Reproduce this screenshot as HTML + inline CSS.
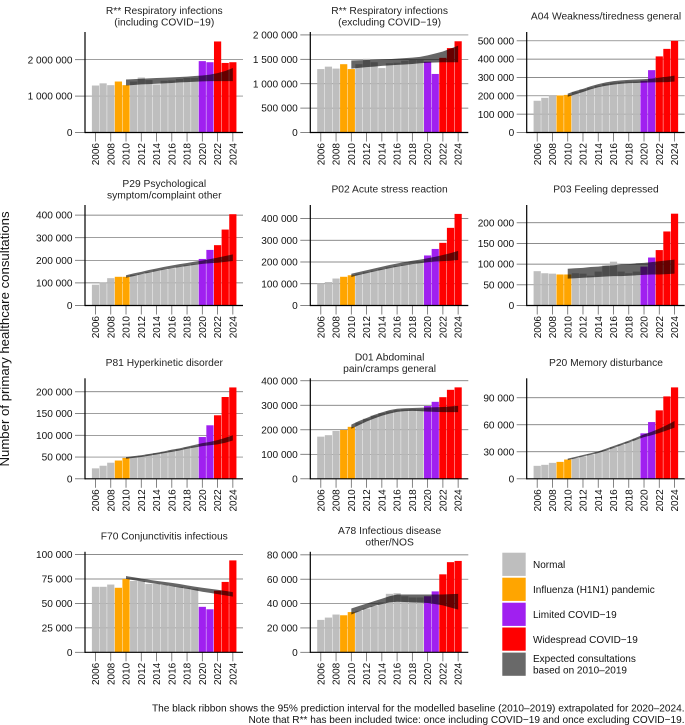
<!DOCTYPE html>
<html lang="en">
<head>
<meta charset="utf-8">
<title>Primary healthcare consultations</title>
<style>
html,body{margin:0;padding:0;background:#fff;}
svg{display:block;font-family:"Liberation Sans",Arial,sans-serif;}
text{fill:#111;}
</style>
</head>
<body>
<svg id="chart" width="685" height="725" viewBox="0 0 685 725" xmlns="http://www.w3.org/2000/svg">
  <text transform="translate(9,339) rotate(-90)" text-anchor="middle" font-size="13.2">Number of primary healthcare consultations</text>

  <g font-size="10">
    <rect x="502.3" y="552.7" width="23.4" height="23.2" fill="#bebebe"/>
    <rect x="502.3" y="577.7" width="23.4" height="23.2" fill="#ffa500"/>
    <rect x="502.3" y="602.7" width="23.4" height="23.2" fill="#a020f0"/>
    <rect x="502.3" y="627.5" width="23.4" height="23.2" fill="#ff0000"/>
    <rect x="502.3" y="652.6" width="23.4" height="23.2" fill="#696969"/>
    <text x="533" y="568">Normal</text>
    <text x="533" y="593">Influenza (H1N1) pandemic</text>
    <text x="533" y="618">Limited COVID−19</text>
    <text x="533" y="643">Widespread COVID−19</text>
    <text x="533" y="662">Expected consultations</text>
    <text x="533" y="673.5">based on 2010–2019</text>
  </g>

  <g font-size="10.1" text-anchor="end">
    <text x="684.5" y="711.5">The black ribbon shows the 95% prediction interval for the modelled baseline (2010–2019) extrapolated for 2020–2024.</text>
    <text x="684.5" y="723">Note that R** has been included twice: once including COVID−19 and once excluding COVID−19.</text>
  </g>
</svg>

<script>
const years = [2006,2007,2008,2009,2010,2011,2012,2013,2014,2015,2016,2017,2018,2019,2020,2021,2022,2023,2024];
const ribbonYears = [2010,2011,2012,2013,2014,2015,2016,2017,2018,2019,2020,2021,2022,2023,2024];
const yearLabels = [2006,2008,2010,2012,2014,2016,2018,2020,2022,2024];

const respInclValues = [1290000,1350000,1300000,1400000,1300000,1400000,1510000,1440000,1320000,1420000,1430000,1470000,1500000,1500000,1960000,1930000,2500000,1910000,1930000];
const respInclUpper = [1456000,1465000,1475000,1485000,1495000,1505000,1515000,1525000,1535000,1550000,1565000,1590000,1630000,1690000,1770000];
const respInclLower = [1290000,1305000,1320000,1330000,1340000,1350000,1360000,1375000,1385000,1395000,1405000,1410000,1410000,1410000,1410000];
const respInclTicks = [0,1000000,2000000];

const respExclValues = [1300000,1350000,1310000,1400000,1300000,1400000,1510000,1440000,1320000,1420000,1430000,1470000,1500000,1500000,1450000,1200000,1530000,1730000,1870000];
const respExclUpper = [1477000,1480000,1485000,1490000,1495000,1505000,1515000,1525000,1535000,1550000,1580000,1620000,1660000,1720000,1780000];
const respExclLower = [1310000,1325000,1340000,1350000,1365000,1375000,1385000,1395000,1405000,1420000,1430000,1435000,1440000,1440000,1440000];
const respExclTicks = [0,500000,1000000,1500000,2000000];

const weaknessValues = [173000,189000,204000,202000,205000,222000,235000,245000,255000,265000,272000,275000,278000,278000,282000,340000,415000,456000,500000];
const weaknessUpper = [212000,226000,238000,252000,264000,273000,280000,284000,287000,289000,291000,294000,299000,304000,310000];
const weaknessLower = [195000,208000,221000,235000,247000,255000,261000,266000,269000,270000,272000,273000,274000,275000,278000];
const weaknessTicks = [0,100000,200000,300000,400000,500000];

const psychValues = [92000,103000,121000,127000,127000,135000,140000,148000,155000,160000,165000,172000,178000,183000,206000,246000,267000,336000,404000];
const psychUpper = [134000,142000,149000,157000,164000,171000,177000,183000,188000,194000,199000,205000,212000,219000,226000];
const psychLower = [123000,130000,138000,145000,152000,159000,165000,170000,175000,180000,184000,187000,189000,193000,197000];
const psychTicks = [0,100000,200000,300000,400000];

const stressValues = [100000,108000,124000,132000,139000,146000,153000,160000,168000,175000,182000,187000,193000,197000,230000,260000,288000,357000,421000];
const stressUpper = [146000,154000,162000,170000,178000,186000,193000,200000,206000,211000,217000,224000,232000,241000,251000];
const stressLower = [131000,140000,148000,156000,164000,171000,178000,184000,190000,194000,199000,202000,204000,206000,209000];
const stressTicks = [0,100000,200000,300000,400000];

const depressedValues = [83000,78000,77000,75000,75000,78000,77000,72000,82000,97000,106000,82000,78000,82000,94000,116000,134000,179000,222000];
const depressedUpper = [89000,90000,91000,93000,94000,96000,97000,99000,100000,102000,103000,105000,107000,109000,111000];
const depressedLower = [65000,66000,67000,68000,69000,70000,71000,71000,72000,73000,74000,75000,75000,76000,77000];
const depressedTicks = [0,50000,100000,150000,200000];

const hyperValues = [24000,30000,37000,42000,48000,50000,53000,56000,59000,62000,65000,68000,72000,75000,96000,123000,146000,188000,210000];
const hyperUpper = [50000,52000,54000,57000,60000,63000,67000,70000,74000,78000,82000,85000,89000,94000,100000];
const hyperLower = [46000,48000,50000,53000,56000,59000,62000,65000,69000,72000,75000,77000,79000,83000,88000];
const hyperTicks = [0,50000,100000,150000,200000];

const abdominalValues = [172000,178000,195000,199000,212000,230000,245000,258000,268000,275000,280000,283000,284000,283000,297000,314000,333000,363000,373000];
const abdominalUpper = [221000,236000,248000,261000,271000,280000,286000,288000,289000,290000,291000,292000,293000,295000,298000];
const abdominalLower = [204000,219000,234000,246000,257000,266000,273000,276000,277000,276000,274000,273000,272000,272000,272000];
const abdominalTicks = [0,100000,200000,300000,400000];

const memoryValues = [14400,15500,17700,18800,21400,23000,25000,27000,29500,32000,35000,38000,41000,44500,50500,63000,76000,91500,101500];
const memoryUpper = [22400,24400,26400,28400,30400,33400,36400,39400,42400,45800,49300,52200,55700,59700,64200];
const memoryLower = [20700,22700,24700,26700,28700,31200,34200,37200,40200,43300,46300,48300,50800,53800,56800];
const memoryTicks = [0,30000,60000,90000];

const conjunctivitisValues = [67000,67000,69300,66000,75000,73000,73000,70000,70000,69000,68000,67000,66000,65000,46500,44000,63000,72000,94000];
const conjunctivitisUpper = [78000,76800,75500,74200,73000,72000,71000,69800,68500,67200,66000,65000,64000,62800,61500];
const conjunctivitisLower = [75000,73800,72500,71200,70000,68800,67500,66200,65000,63500,62000,60800,59500,58200,57000];
const conjunctivitisTicks = [0,25000,50000,75000,100000];

const infectiousValues = [26600,28500,31000,30400,33000,34000,36000,38000,41000,48000,48500,46000,45000,45000,46000,50000,64000,74000,75000];
const infectiousUpper = [36000,38000,40000,42000,44000,46000,47500,47500,47500,47500,47500,47500,47500,47800,48000];
const infectiousLower = [31000,33500,36000,38000,39500,41000,41500,41300,41000,40800,40500,39500,38500,36800,35000];
const infectiousTicks = [0,20000,40000,60000,80000];

const yMaxes = [2760000,2060000,548000,444700,462000,243000,231000,410000,111600,102800,82500];

const titles = [
  ["R** Respiratory infections","(including COVID−19)"],
  ["R** Respiratory infections","(excluding COVID−19)"],
  ["A04 Weakness/tiredness general"],
  ["P29 Psychological","symptom/complaint other"],
  ["P02 Acute stress reaction"],
  ["P03 Feeling depressed"],
  ["P81 Hyperkinetic disorder"],
  ["D01 Abdominal","pain/cramps general"],
  ["P20 Memory disturbance"],
  ["F70 Conjunctivitis infectious"],
  ["A78 Infectious disease","other/NOS"]
];
const panelSeries = [
  [respInclValues,respInclUpper,respInclLower,respInclTicks],
  [respExclValues,respExclUpper,respExclLower,respExclTicks],
  [weaknessValues,weaknessUpper,weaknessLower,weaknessTicks],
  [psychValues,psychUpper,psychLower,psychTicks],
  [stressValues,stressUpper,stressLower,stressTicks],
  [depressedValues,depressedUpper,depressedLower,depressedTicks],
  [hyperValues,hyperUpper,hyperLower,hyperTicks],
  [abdominalValues,abdominalUpper,abdominalLower,abdominalTicks],
  [memoryValues,memoryUpper,memoryLower,memoryTicks],
  [conjunctivitisValues,conjunctivitisUpper,conjunctivitisLower,conjunctivitisTicks],
  [infectiousValues,infectiousUpper,infectiousLower,infectiousTicks]
];

const svgNS = "http://www.w3.org/2000/svg";
const chart = document.getElementById("chart");

function make(parent, tag, attrs) {
  const el = document.createElementNS(svgNS, tag);
  for (const key in attrs) el.setAttribute(key, attrs[key]);
  parent.appendChild(el);
  return el;
}
function formatTick(v) {
  return String(v).replace(/\B(?=(\d{3})+$)/g, " ");
}
function barColor(year) {
  if (year === 2009 || year === 2010) return "#ffa500";
  if (year === 2020 || year === 2021) return "#a020f0";
  if (year >= 2022) return "#ff0000";
  return "#b9b9b9";
}

function drawPanel(index) {
  const [values, upper, lower, ticks] = panelSeries[index];
  const col = index % 3;
  const row = Math.floor(index / 3);
  const axisX = [85, 310.3, 526.7][col];
  const baseY = [132.5, 305.5, 478.8, 652.3][row];
  const plotH = 100.5;
  const plotW = 158;
  const step = 7.63;
  const yMax = yMaxes[index];
  const xScale = year => axisX + 10.5 + (year - years[0]) * step;
  const yScale = v => baseY - (v / yMax) * plotH;

  const g = make(chart, "g", {});
  
  

  const lines = titles[index];
  const titleCenterX = axisX + 79.3;
  lines.forEach((line, i) => {
    const offset = lines.length === 1 ? -116.5 : (i === 0 ? -122 : -110.6);
    const t = make(g, "text", {x: titleCenterX, y: baseY + offset + 3.6, "text-anchor": "middle", "font-size": "10.25"});
    
    
    t.style.fill = "#222";
    t.textContent = line;
  });

  ticks.forEach(v => {
    const y = yScale(v);
    const grid = make(g, "line", {x1: axisX, x2: axisX + plotW, y1: y, y2: y, stroke: "#666", "stroke-width": v === 0 ? 0 : 0.7});
    
    
    const tick = make(g, "line", {x1: axisX - 10, x2: axisX, y1: y, y2: y, stroke: "#666", "stroke-width": 0.8});
    
    
    const label = make(g, "text", {x: axisX - 12.5, y: y + 3.6, "text-anchor": "end", "font-size": "10.1"});
    
    
    label.textContent = formatTick(v);
  });

  years.forEach((year, i) => {
    const top = yScale(values[i]);
    const bar = make(g, "rect", {
      x: xScale(year) - 3.6, y: top, width: 7.2, height: baseY - top,
      fill: barColor(year), "fill-opacity": barColor(year) === "#b9b9b9" ? 0.92 : 1
    });
    
    
  });

  const upperPts = ribbonYears.map((yr, i) => xScale(yr).toFixed(2) + "," + yScale(upper[i]).toFixed(2));
  const lowerPts = ribbonYears.map((yr, i) => xScale(yr).toFixed(2) + "," + yScale(lower[i]).toFixed(2)).reverse();
  const ribbon = make(g, "polygon", {points: upperPts.concat(lowerPts).join(" "), fill: "#000", "fill-opacity": 0.6});
  
  

  yearLabels.forEach(year => {
    const x = xScale(year);
    const tick = make(g, "line", {x1: x, x2: x, y1: baseY, y2: baseY + 9, stroke: "#666", "stroke-width": 0.8});
    
    
    const label = make(g, "text", {transform: "translate(" + (x + 3.6) + "," + (baseY + 10.5) + ") rotate(-90)", "text-anchor": "end", "font-size": "10"});
    
    
    label.textContent = year;
  });

  const yAxis = make(g, "line", {x1: axisX, x2: axisX, y1: baseY - plotH, y2: baseY + 0.6, stroke: "#000", "stroke-width": 1.2});
  
  
  const xAxis = make(g, "line", {x1: axisX, x2: axisX + plotW, y1: baseY, y2: baseY, stroke: "#000", "stroke-width": 1.2});
  
  
}

panelSeries.forEach((_, i) => drawPanel(i));
</script>
</body>
</html>
